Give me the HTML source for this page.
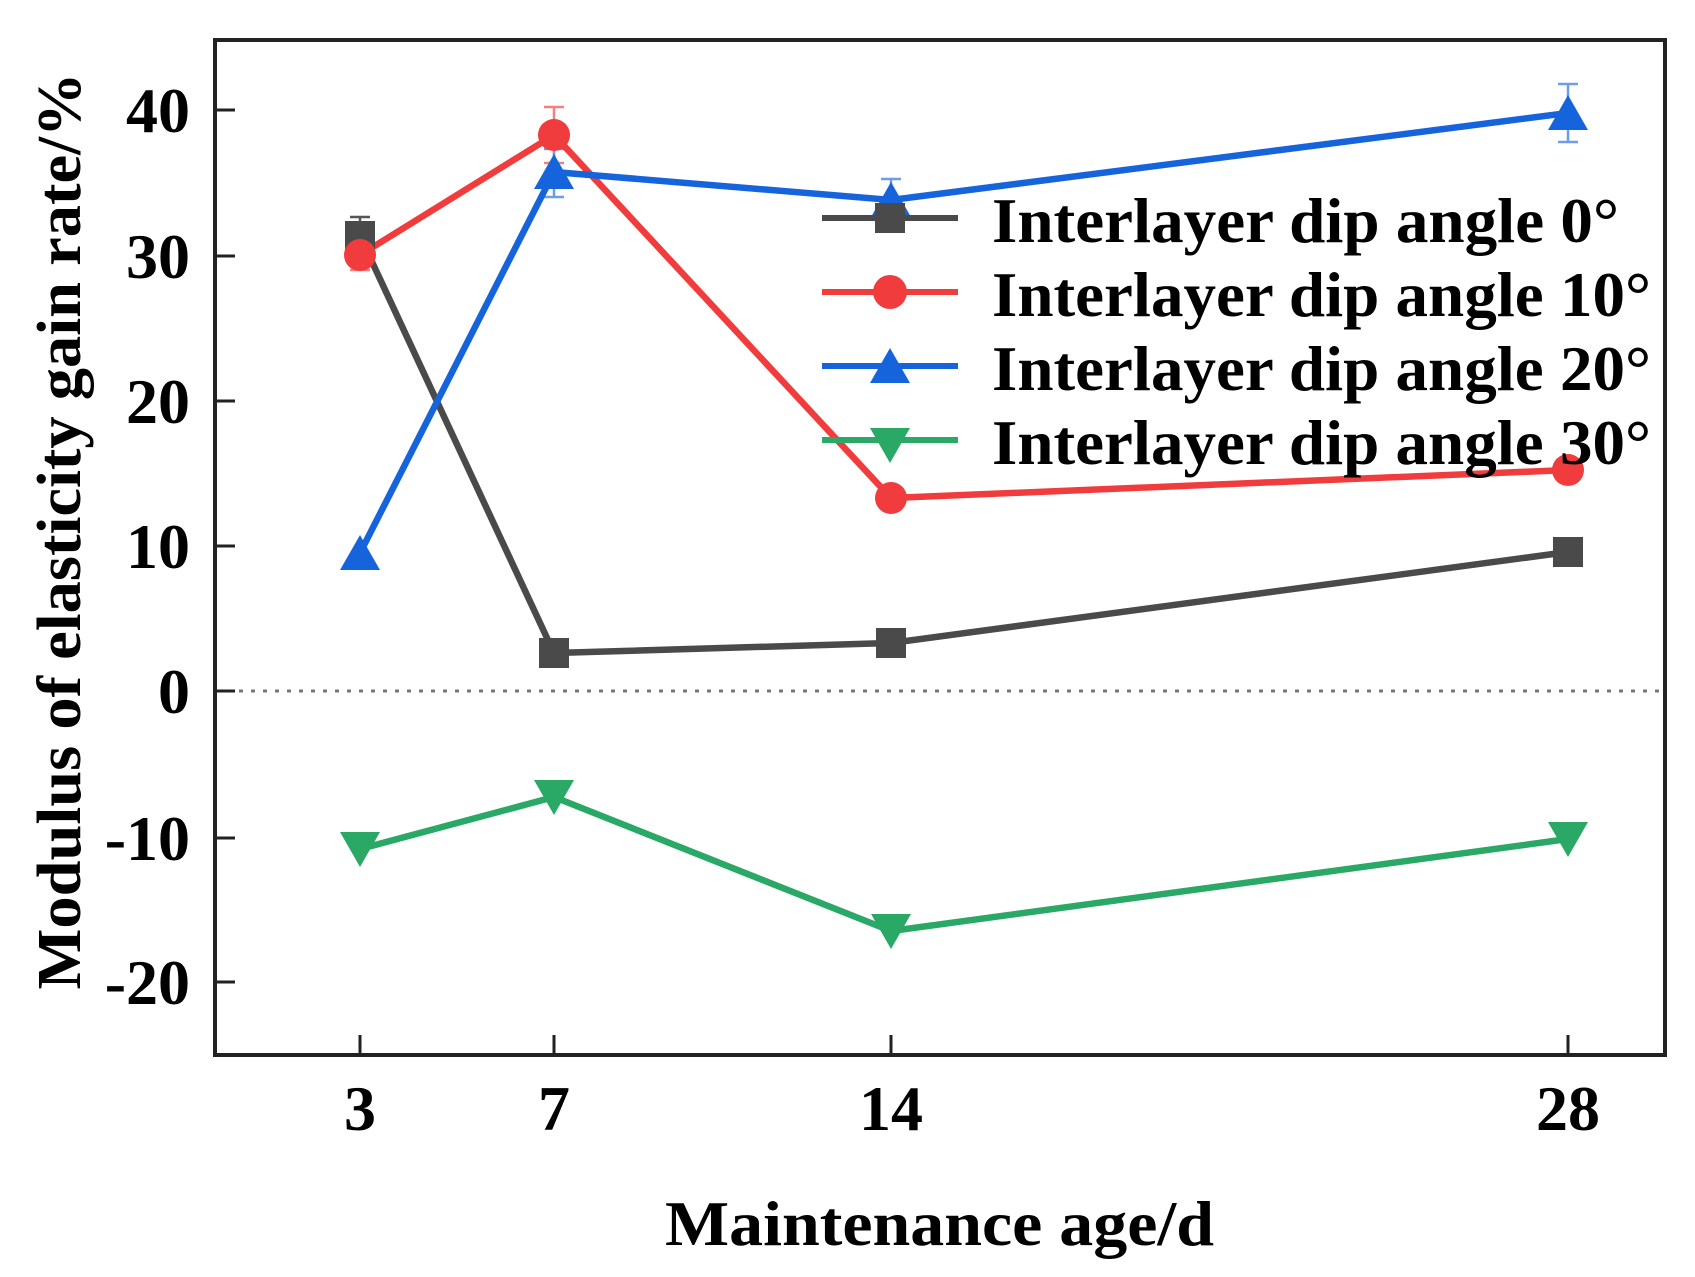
<!DOCTYPE html>
<html><head><meta charset="utf-8"><style>
html,body{margin:0;padding:0;background:#fff}
svg{display:block}
text{font-family:"Liberation Serif",serif;font-weight:bold;fill:#000}
</style></head><body>
<svg width="1695" height="1277" viewBox="0 0 1695 1277" xmlns="http://www.w3.org/2000/svg">
<rect width="1695" height="1277" fill="#fff"/>
<line x1="215" y1="691" x2="1665" y2="691" stroke="#777" stroke-width="3" stroke-dasharray="4,8"/>
<rect x="215" y="40" width="1450" height="1015" fill="none" stroke="#222" stroke-width="4"/>
<g stroke="#222" stroke-width="3">
<line x1="215" y1="110" x2="235" y2="110"/><line x1="215" y1="256" x2="235" y2="256"/>
<line x1="215" y1="401" x2="235" y2="401"/><line x1="215" y1="546" x2="235" y2="546"/>
<line x1="215" y1="691" x2="235" y2="691"/><line x1="215" y1="838" x2="235" y2="838"/>
<line x1="215" y1="982" x2="235" y2="982"/>
<line x1="360" y1="1055" x2="360" y2="1035"/><line x1="554" y1="1055" x2="554" y2="1035"/>
<line x1="891" y1="1055" x2="891" y2="1035"/><line x1="1568" y1="1055" x2="1568" y2="1035"/>
</g>
<g font-size="64" text-anchor="end">
<text x="190" y="132">40</text><text x="190" y="278">30</text><text x="190" y="423">20</text>
<text x="190" y="568">10</text><text x="190" y="713">0</text><text x="190" y="860">-10</text>
<text x="190" y="1004">-20</text>
</g>
<g font-size="64" text-anchor="middle">
<text x="360" y="1130">3</text><text x="554" y="1130">7</text><text x="891" y="1130">14</text><text x="1568" y="1130">28</text>
</g>
<text x="665" y="1245" font-size="64" textLength="549" lengthAdjust="spacingAndGlyphs">Maintenance age/d</text>
<text transform="translate(80,531) rotate(-90)" font-size="62" text-anchor="middle" textLength="917" lengthAdjust="spacingAndGlyphs">Modulus of elasticity gain rate/%</text>
<g stroke-width="2.5" fill="none">
<path d="M360 217V255M350 217H370M350 255H370" stroke="#555"/>
<path d="M360 240V270M350 240H370M350 270H370" stroke="#f58080"/>
<path d="M554 107V163M544 107H564M544 163H564" stroke="#f58080"/>
<path d="M554 149V197M544 149H564M544 197H564" stroke="#6a9ee8"/>
<path d="M891 179V221M881 179H901" stroke="#6a9ee8"/>
<path d="M1568 84V142M1558 84H1578M1558 142H1578" stroke="#6a9ee8"/>
</g>
<g fill="none" stroke-width="6.5" stroke-linejoin="round">
<polyline points="360,236 554,653 891,643 1568,552" stroke="#4a4a4a"/>
<polyline points="360,255 554,135 891,498 1568,470" stroke="#f03c3c"/>
<polyline points="360,553 554,172 891,200 1568,113" stroke="#1664dc"/>
<polyline points="360,849 554,797 891,931 1568,839" stroke="#2aa866"/>
</g>
<g fill="#4a4a4a">
<rect x="345" y="221" width="30" height="30"/><rect x="539" y="638" width="30" height="30"/>
<rect x="876" y="628" width="30" height="30"/><rect x="1553" y="537" width="30" height="30"/>
</g>
<g fill="#f03c3c">
<circle cx="360" cy="255" r="16"/><circle cx="554" cy="135" r="16"/>
<circle cx="891" cy="498" r="16"/><circle cx="1568" cy="470" r="16"/>
</g>
<g fill="#1664dc">
<path d="M360 535L380 570H340Z"/><path d="M554 154L574 189H534Z"/>
<path d="M891 182L911 217H871Z"/><path d="M1568 95L1588 130H1548Z"/>
</g>
<g fill="#2aa866">
<path d="M360 867L380 832H340Z"/><path d="M554 815L574 780H534Z"/>
<path d="M891 949L911 914H871Z"/><path d="M1568 857L1588 822H1548Z"/>
</g>
<g stroke-width="6">
<line x1="822" y1="218" x2="958" y2="218" stroke="#4a4a4a"/>
<line x1="822" y1="292" x2="958" y2="292" stroke="#f03c3c"/>
<line x1="822" y1="366" x2="958" y2="366" stroke="#1664dc"/>
<line x1="822" y1="440" x2="958" y2="440" stroke="#2aa866"/>
</g>
<rect x="875" y="203" width="30" height="30" fill="#4a4a4a"/>
<circle cx="890" cy="292" r="17" fill="#f03c3c"/>
<path d="M890 348L910 383H870Z" fill="#1664dc"/>
<path d="M890 463L910 428H870Z" fill="#2aa866"/>
<g font-size="64">
<text x="992" y="242" textLength="627" lengthAdjust="spacingAndGlyphs">Interlayer dip angle 0°</text>
<text x="992" y="316" textLength="659" lengthAdjust="spacingAndGlyphs">Interlayer dip angle 10°</text>
<text x="992" y="390" textLength="659" lengthAdjust="spacingAndGlyphs">Interlayer dip angle 20°</text>
<text x="992" y="464" textLength="659" lengthAdjust="spacingAndGlyphs">Interlayer dip angle 30°</text>
</g>
</svg>
</body></html>
